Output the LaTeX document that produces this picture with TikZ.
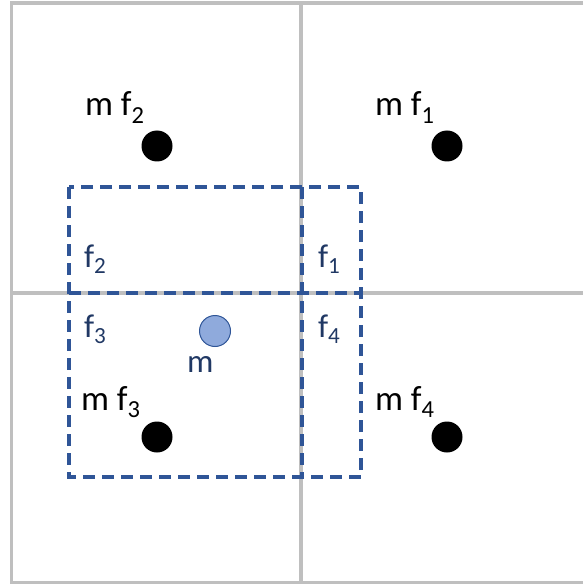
\documentclass[tikz,border=0pt]{standalone}
\usepackage{fontspec}
\setmainfont{Carlito}
\usetikzlibrary{positioning}
\definecolor{gridgray}{HTML}{BFBFBF}
\definecolor{boxblue}{HTML}{2F5597}
\definecolor{dotblue}{HTML}{8FAADC}
\definecolor{labblue}{HTML}{203864}

\begin{document}
\begin{tikzpicture}[
  x=1pt, y=-1pt,
  every node/.style={inner sep=0pt, outer sep=0pt},
  cell/.style={draw=gridgray, line width=3.8pt},
  fbox/.style={draw=boxblue, line width=3.6pt, dash pattern=on 12pt off 7pt},
  fdot/.style={circle, fill=black, minimum size=31pt},
  mdot/.style={circle, fill=dotblue, draw=boxblue, line width=1pt, minimum size=31pt},
  mlab/.style={anchor=base west, font=\fontsize{35}{40}\selectfont},
  flab/.style={anchor=base west, text=labblue, font=\fontsize{33}{38}\selectfont}
]
\useasboundingbox (0,0) rectangle (583,585);
% grid cells
\draw[cell] (583,3) -- (11.5,3) -- (11.5,582.5) -- (583,582.5);
\draw[cell] (301,3) -- (301,582.5);
\draw[cell] (11.5,293) -- (583,293);
% footprint
\draw[fbox] (69,187) rectangle (361,477);
\draw[fbox] (302,187) -- (302,477);
\draw[fbox] (69,293) -- (361,293);
% cell points
\node[fdot] (P2) at (157,146) {};
\node[fdot] (P1) at (447,146) {};
\node[fdot] (P3) at (157,437) {};
\node[fdot] (P4) at (447,437) {};
\node[mdot] (M) at (215,331) {};
\node[mlab] (L2) at (85,116) {m f\textsubscript{2}};
\node[mlab] (L1) at (375,116) {m f\textsubscript{1}};
\node[mlab] (L3) at (81,410) {m f\textsubscript{3}};
\node[mlab] (L4) at (375,410) {m f\textsubscript{4}};
% fractions
\node[flab] (F2) at (84,267) {f\textsubscript{2}};
\node[flab] (F1) at (318,267) {f\textsubscript{1}};
\node[flab] (F3) at (84,337) {f\textsubscript{3}};
\node[flab] (F4) at (318,337) {f\textsubscript{4}};
\node[flab] (ML) at (187,372) {m};
\end{tikzpicture}
\end{document}
